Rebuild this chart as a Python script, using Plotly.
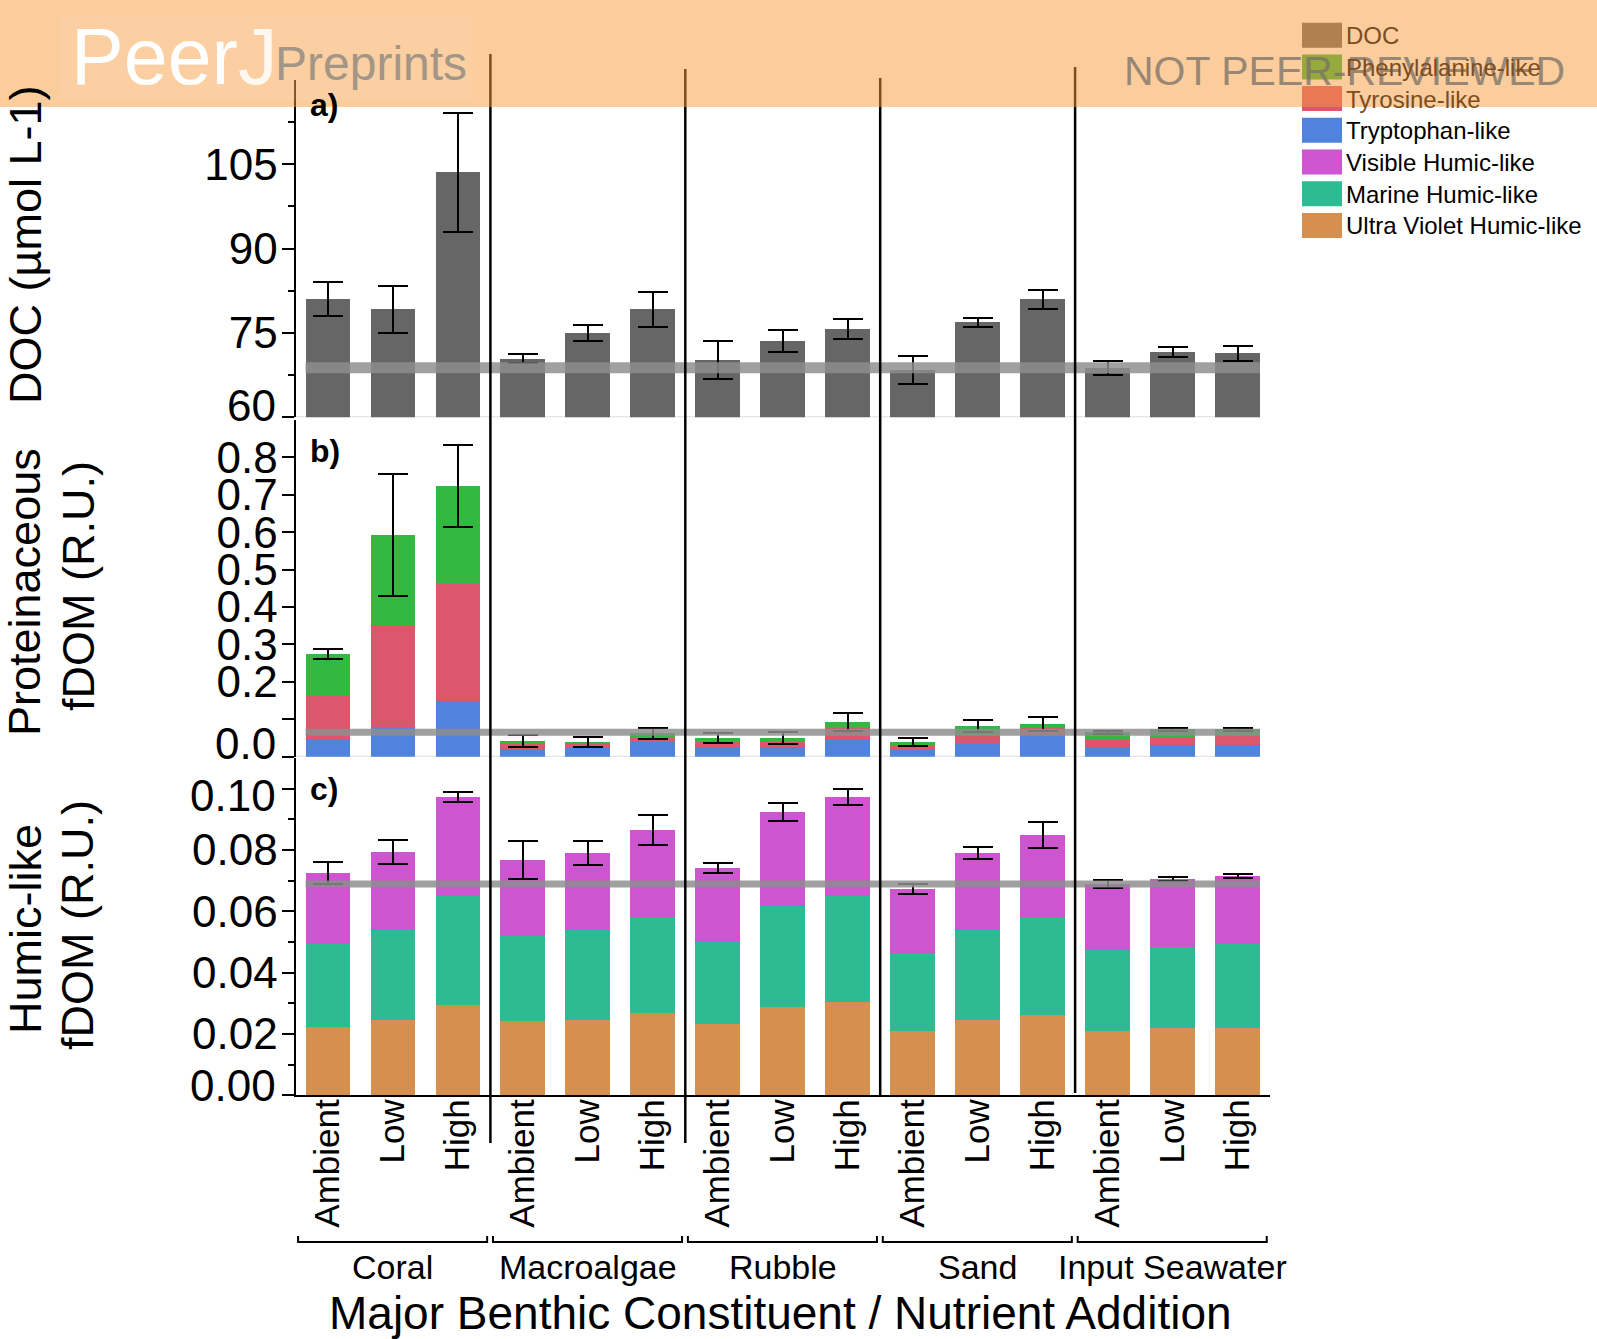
import plotly.graph_objects as go

W, H = 1597, 1339
FONT = "Liberation Sans, Arial, Helvetica, sans-serif"

# ---------------- data ----------------
groups = ["Coral", "Macroalgae", "Rubble", "Sand", "Input Seawater"]
levels = ["Ambient", "Low", "High"]

doc_mean = [81.0, 79.2, 103.6, 70.4, 75.0, 79.2, 70.2, 73.6, 75.7, 68.4, 76.9, 81.0, 68.8, 71.6, 71.4]
doc_err = [3.0, 4.2, 10.6, 0.8, 1.4, 3.1, 3.3, 2.0, 1.7, 2.5, 0.8, 1.7, 1.2, 0.85, 1.35]

tryptophan = [0.046, 0.079, 0.149, 0.021, 0.024, 0.040, 0.026, 0.026, 0.046, 0.019, 0.037, 0.056, 0.026, 0.030, 0.031]
tyrosine = [0.116, 0.271, 0.315, 0.014, 0.011, 0.011, 0.013, 0.013, 0.030, 0.015, 0.019, 0.020, 0.021, 0.023, 0.025]
phenylalanine = [0.112, 0.242, 0.259, 0.007, 0.004, 0.011, 0.011, 0.011, 0.017, 0.005, 0.026, 0.011, 0.018, 0.020, 0.018]
prot_err = [0.014, 0.163, 0.110, 0.0165, 0.0125, 0.016, 0.0125, 0.015, 0.023, 0.011, 0.0155, 0.018, 0.005, 0.003, 0.004]

uv_humic = [0.0223, 0.0247, 0.0294, 0.0242, 0.0247, 0.0268, 0.0233, 0.0288, 0.0304, 0.0210, 0.0247, 0.0262, 0.0210, 0.0220, 0.0220]
marine_humic = [0.0271, 0.0293, 0.0357, 0.0278, 0.0293, 0.0313, 0.0267, 0.0330, 0.0347, 0.0253, 0.0293, 0.0319, 0.0265, 0.0264, 0.0274]
visible_humic = [0.0231, 0.0253, 0.0322, 0.0247, 0.0250, 0.0284, 0.0241, 0.0306, 0.0322, 0.0210, 0.0250, 0.0268, 0.0214, 0.0221, 0.0221]
humic_err = [0.0037, 0.0040, 0.0015, 0.0063, 0.0040, 0.0050, 0.0017, 0.0030, 0.0025, 0.0016, 0.0020, 0.0043, 0.0014, 0.0007, 0.0006]

series_names = ["DOC", "Phenylalanine-like", "Tyrosine-like", "Tryptophan-like",
                "Visible Humic-like", "Marine Humic-like", "Ultra Violet Humic-like"]
series_colors = ["#666666", "#33b940", "#dc576b", "#5083dc", "#ce55d0", "#2ebb94", "#d58f4f"]
COL = dict(zip(series_names, series_colors))

# tick values / labels ("" = tick drawn, label placed separately or omitted)
a_ticks = [60, 75, 90, 105]
a_ticktext = ["", "75", "90", "105"]
a_minor = [67.5, 82.5, 97.5, 112.5]
b_ticks = [0.0, 0.1, 0.2, 0.3, 0.4, 0.5, 0.6, 0.7, 0.8]
b_ticktext = ["", "", "0.2", "0.3", "0.4", "0.5", "0.6", "0.7", "0.8"]
c_ticks = [0.0, 0.02, 0.04, 0.06, 0.08, 0.10]
c_ticktext = ["", "0.02", "0.04", "0.06", "0.08", ""]
c_minor = [0.01, 0.03, 0.05, 0.07, 0.09]
# end labels nudged inward (value, text, axis, vertical shift in px)
edge_labels = [(60, "60", "y3", 12), (0.0, "0.0", "y2", 13), (0.0, "0.00", "y", 10), (0.10, "0.10", "y", -7)]

# ------------- helpers -------------
def px(x):
    return x / W

def py(y):
    return 1 - y / H

n = len(groups) * len(levels)
xs = list(range(n))
xlabels = [lv for g in groups for lv in levels]
ref_idx = xlabels.index("Ambient", (len(groups) - 1) * len(levels))

ERR = dict(type="data", color="black", thickness=2, width=15, visible=True)
BW = 0.69

fig = go.Figure()

# panel a (DOC)
fig.add_trace(go.Bar(x=xs, y=doc_mean, xaxis="x3", yaxis="y3", width=BW,
                     marker=dict(color=COL["DOC"], line=dict(width=0)),
                     error_y=dict(array=doc_err, **ERR), showlegend=False))
# panel b (proteinaceous)
for name, vals, err in [("Tryptophan-like", tryptophan, None),
                        ("Tyrosine-like", tyrosine, None),
                        ("Phenylalanine-like", phenylalanine, prot_err)]:
    fig.add_trace(go.Bar(x=xs, y=vals, xaxis="x2", yaxis="y2", width=BW,
                         marker=dict(color=COL[name], line=dict(width=0)),
                         error_y=dict(array=err, **ERR) if err else None,
                         showlegend=False))
# panel c (humic)
for name, vals, err in [("Ultra Violet Humic-like", uv_humic, None),
                        ("Marine Humic-like", marine_humic, None),
                        ("Visible Humic-like", visible_humic, humic_err)]:
    fig.add_trace(go.Bar(x=xs, y=vals, xaxis="x", yaxis="y", width=BW,
                         marker=dict(color=COL[name], line=dict(width=0)),
                         error_y=dict(array=err, **ERR) if err else None,
                         showlegend=False))

xdom = [px(295.5), px(1270)]
YLAB_RIGHT = 278
yax_common = dict(showgrid=False, zeroline=False, showline=True, linecolor="black", linewidth=2,
                  ticks="outside", ticklen=12, tickwidth=2, tickcolor="black", automargin=False,
                  ticklabelstandoff=-5,
                  tickfont=dict(size=44, color="black", family=FONT), tickmode="array")
xax_common = dict(domain=xdom, range=[-0.5, n - 0.5], showgrid=False, zeroline=False,
                  fixedrange=True, automargin=False)

fig.update_layout(
    width=W, height=H, margin=dict(l=0, r=0, t=0, b=0, pad=0, autoexpand=False),
    paper_bgcolor="white", plot_bgcolor="rgba(0,0,0,0)", showlegend=False,
    barmode="stack", font=dict(family=FONT, color="black"),
    xaxis=dict(**xax_common, anchor="y", tickmode="array", tickvals=xs, ticktext=xlabels,
               tickangle=-90, tickfont=dict(size=35, color="black", family=FONT),
               ticklabelstandoff=-12,
               showline=True, linecolor="black", linewidth=2, ticks=""),
    xaxis2=dict(**xax_common, anchor="y2", showticklabels=False, showline=False, ticks=""),
    xaxis3=dict(**xax_common, anchor="y3", showticklabels=False, showline=False, ticks=""),
    yaxis=dict(**yax_common, domain=[py(1095.3), py(758)], range=[0, 0.11], anchor="x",
               tickvals=c_ticks, ticktext=c_ticktext,
               minor=dict(tickmode="array", tickvals=c_minor, ticks="outside", ticklen=6,
                          tickwidth=2, tickcolor="black", showgrid=False)),
    yaxis2=dict(**yax_common, domain=[py(756.7), py(419.8)], range=[0, 0.9], anchor="x2",
                tickvals=b_ticks, ticktext=b_ticktext),
    yaxis3=dict(**yax_common, domain=[py(417.3), py(80)], range=[60, 120], anchor="x3",
                tickvals=a_ticks, ticktext=a_ticktext,
                minor=dict(tickmode="array", tickvals=a_minor, ticks="outside", ticklen=6,
                           tickwidth=2, tickcolor="black", showgrid=False)),
)

shapes = []
# faint baselines of panels a and b
shapes.append(dict(type="line", xref="x3", yref="y3", x0=-0.5, x1=n - 1 + BW / 2, y0=60, y1=60,
                   line=dict(color="#dddddd", width=2), layer="below"))
shapes.append(dict(type="line", xref="x2", yref="y2", x0=-0.5, x1=n - 1 + BW / 2, y0=0, y1=0,
                   line=dict(color="#dddddd", width=2), layer="below"))

# reference lines (input seawater ambient)
GREY = "rgba(142,142,142,0.84)"
ref_a = doc_mean[ref_idx]
ref_b = tryptophan[ref_idx] + tyrosine[ref_idx] + phenylalanine[ref_idx]
ref_c = uv_humic[ref_idx] + marine_humic[ref_idx] + visible_humic[ref_idx]
for xr, yr, val, lw in [("x3", "y3", ref_a, 11), ("x2", "y2", ref_b, 7), ("x", "y", ref_c, 7)]:
    shapes.append(dict(type="line", xref=xr, yref=yr, x0=-BW / 2, x1=n - 1 + BW / 2, y0=val, y1=val,
                       line=dict(color=GREY, width=lw), layer="above"))

# group separators
sep_extent = [(54, 1143), (69, 1143), (78, 1095), (67, 1093)]
for gi, (top, bot) in enumerate(sep_extent, start=1):
    xv = gi * len(levels) - 0.5
    shapes.append(dict(type="line", xref="x", yref="paper", x0=xv, x1=xv, y0=py(bot), y1=py(top),
                       line=dict(color="black", width=2.5), layer="above"))

# group brackets
yb, yu = py(1242), py(1236)
for gi in range(len(groups)):
    x0 = gi * len(levels) - 0.46
    x1 = gi * len(levels) + len(levels) - 0.55
    shapes.append(dict(type="path", xref="x", yref="paper",
                       path=f"M {x0},{yu} L {x0},{yb} L {x1},{yb} L {x1},{yu}",
                       line=dict(color="black", width=2)))

# legend swatches
leg_x0, leg_x1 = 1302, 1342
for i, (nm, colr) in enumerate(zip(series_names, series_colors)):
    top = 22.7 + i * 31.7
    shapes.append(dict(type="rect", xref="paper", yref="paper", x0=px(leg_x0), x1=px(leg_x1),
                       y0=py(top + 25), y1=py(top), fillcolor=colr, line=dict(width=0), layer="above"))

# watermark banner
BANNER = 107
shapes.append(dict(type="rect", xref="paper", yref="paper", x0=0, x1=1, y0=py(BANNER), y1=1,
                   fillcolor="rgba(247,153,57,0.5)", line=dict(width=0), layer="above"))
shapes.append(dict(type="rect", xref="paper", yref="paper", x0=px(59), x1=px(472), y0=py(100), y1=py(15),
                   fillcolor="rgba(255,255,255,0.06)", line=dict(width=0), layer="above"))

annotations = []
# end-of-axis tick labels
for val, txt, yr, shift in edge_labels:
    annotations.append(dict(text=txt, xref="paper", yref=yr, x=px(YLAB_RIGHT), y=val, yshift=shift,
                            showarrow=False, xanchor="right", yanchor="middle",
                            font=dict(size=44, family=FONT, color="black")))
# y-axis titles
ytitles = [("DOC (µmol L-1)", 25, 245), ("Proteinaceous", 25, 592), ("fDOM (R.U.)", 78, 586),
           ("Humic-like", 25, 929), ("fDOM (R.U.)", 78, 925)]
for txt, xc, yc in ytitles:
    annotations.append(dict(text=txt, xref="paper", yref="paper", x=px(xc), y=py(yc),
                            textangle=-90, showarrow=False, font=dict(size=45, family=FONT, color="black"),
                            xanchor="center", yanchor="middle"))
# panel labels
for lab, yc in [("a)", 105), ("b)", 451), ("c)", 789)]:
    annotations.append(dict(text=f"<b>{lab}</b>", xref="paper", yref="paper", x=px(308), y=py(yc),
                            showarrow=False, xanchor="left", yanchor="middle",
                            font=dict(size=32, family=FONT, color="black")))
# group labels
for gi, g in enumerate(groups):
    annotations.append(dict(text=g, xref="x", yref="paper", x=gi * len(levels) + 1, y=py(1267),
                            showarrow=False, xanchor="center", yanchor="middle",
                            font=dict(size=34, family=FONT, color="black")))
# x title
annotations.append(dict(text="Major Benthic Constituent / Nutrient Addition", xref="paper", yref="paper",
                        x=px(780), y=py(1313), showarrow=False, xanchor="center", yanchor="middle",
                        font=dict(size=46, family=FONT, color="black")))
# watermark texts
annotations.append(dict(text="NOT PEER-REVIEWED", xref="paper", yref="paper", x=px(1344), y=py(71),
                        showarrow=False, xanchor="center", yanchor="middle",
                        font=dict(size=41, family=FONT, color="rgba(120,112,105,0.75)")))
annotations.append(dict(text="Peer<span style='color:rgba(255,255,255,0.85)'>J</span>", xref="paper",
                        yref="paper", x=px(69), y=py(57),
                        showarrow=False, xanchor="left", yanchor="middle",
                        font=dict(size=79, family=FONT, color="white")))
annotations.append(dict(text="Preprints", xref="paper", yref="paper", x=px(273), y=py(64),
                        showarrow=False, xanchor="left", yanchor="middle",
                        font=dict(size=48, family=FONT, color="#a39686")))
# legend texts
for i, nm in enumerate(series_names):
    top = 22.7 + i * 31.7
    colr = "#7c4d22" if top + 12 < BANNER else "black"
    annotations.append(dict(text=nm, xref="paper", yref="paper", x=px(1344), y=py(top + 13),
                            showarrow=False, xanchor="left", yanchor="middle",
                            font=dict(size=24, family=FONT, color=colr)))

fig.update_layout(shapes=shapes, annotations=annotations)

post = (
    "document.documentElement.style.margin='0';document.body.style.margin='0';"
    "document.documentElement.style.overflow='hidden';document.body.style.overflow='hidden';"
)
fig.write_html("out.html", config={"displayModeBar": False}, post_script=post)
